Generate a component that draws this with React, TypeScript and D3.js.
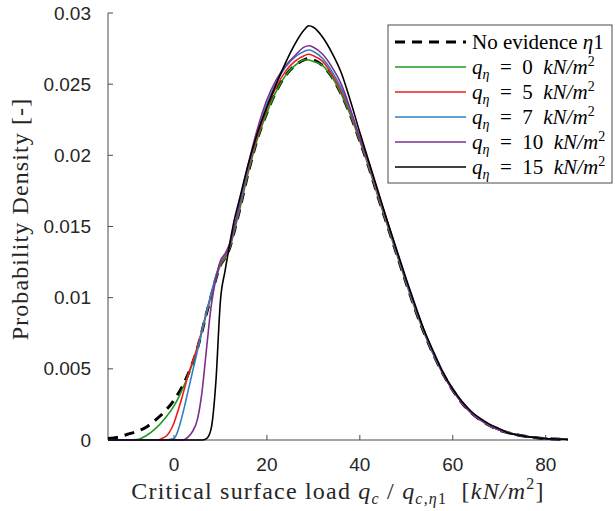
import React from "react";
import * as d3 from "d3";

const xValues = [-14.2,-12,-10,-8,-6,-4,-2,0,1,2,3,4,5,6,7,8,9,10,11,12,13,14,16,18,20,22,24,26,28,29,30,32,34,36,38,40,42,44,46,48,50,52,54,56,58,60,62,64,66,68,70,72,74,76,78,80,82,84.8];

const noEvidence = [0.0001,0.0002,0.0004,0.0006,0.0009,0.0014,0.0020,0.0028,0.0033,0.0039,0.0046,0.0054,0.0064,0.0076,0.0089,0.0101,0.0113,0.0123,0.0128,0.0135,0.0147,0.0160,0.0188,0.0212,0.0230,0.0245,0.0256,0.0263,0.0267,0.0268,0.0267,0.0263,0.0255,0.0243,0.0228,0.0210,0.0191,0.0170,0.0150,0.0130,0.0110,0.0091,0.0074,0.0059,0.0046,0.0035,0.0026,0.0019,0.0014,0.0010,0.0007,0.0005,0.00035,0.00024,0.00016,0.0001,0.00007,0.00004];

const q0 = [0,0,0,0.00003,0.0003,0.0008,0.0015,0.0024,0.0030,0.0037,0.0045,0.0054,0.0064,0.0076,0.0089,0.0101,0.0113,0.0123,0.0128,0.0135,0.0147,0.0160,0.0188,0.0212,0.0230,0.0245,0.0256,0.0263,0.0267,0.0267,0.0266,0.0263,0.0255,0.0243,0.0228,0.0210,0.0191,0.0170,0.0150,0.0130,0.0110,0.0091,0.0074,0.0059,0.0046,0.0035,0.0026,0.0019,0.0014,0.0010,0.0007,0.0005,0.00035,0.00024,0.00016,0.0001,0.00007,0.00004];

const q5 = [0,0,0,0,0,0,0.0002,0.0012,0.0022,0.0033,0.0045,0.0055,0.0065,0.0077,0.0090,0.0102,0.0114,0.0124,0.0129,0.0136,0.0148,0.0162,0.0190,0.0214,0.0233,0.0248,0.0259,0.0266,0.0270,0.0271,0.0270,0.0266,0.0257,0.0245,0.0230,0.0211,0.0192,0.0171,0.0151,0.0131,0.0111,0.0092,0.0075,0.0059,0.0046,0.0035,0.0026,0.0019,0.0014,0.0010,0.0007,0.0005,0.00035,0.00024,0.00016,0.0001,0.00007,0.00004];

const q7 = [0,0,0,0,0,0,0,0.0001,0.0008,0.0020,0.0034,0.0048,0.0062,0.0076,0.0090,0.0103,0.0115,0.0125,0.0130,0.0137,0.0149,0.0163,0.0192,0.0216,0.0236,0.0251,0.0262,0.0269,0.0273,0.0274,0.0273,0.0268,0.0259,0.0247,0.0231,0.0212,0.0193,0.0172,0.0152,0.0131,0.0111,0.0092,0.0075,0.0059,0.0046,0.0035,0.0026,0.0019,0.0014,0.0010,0.0007,0.0005,0.00035,0.00024,0.00016,0.0001,0.00007,0.00004];

const q10 = [0,0,0,0,0,0,0,0,0,0,0.0002,0.0006,0.0014,0.0033,0.0064,0.0094,0.0113,0.0126,0.0131,0.0138,0.0150,0.0165,0.0194,0.0219,0.0239,0.0253,0.0263,0.0270,0.0276,0.0277,0.0276,0.0271,0.0262,0.0250,0.0232,0.0212,0.0194,0.0173,0.0153,0.0132,0.0112,0.0093,0.0075,0.0060,0.0046,0.0035,0.0026,0.0019,0.0014,0.0010,0.0007,0.0005,0.00035,0.00024,0.00016,0.0001,0.00007,0.00004];

const q15 = [0,0,0,0,0,0,0,0,0,0,0,0,0,0,0.0001,0.0008,0.0040,0.0098,0.0119,0.0138,0.0155,0.0168,0.0194,0.0216,0.0234,0.0250,0.0265,0.0278,0.0288,0.0291,0.0290,0.0283,0.0272,0.0258,0.0238,0.0216,0.0195,0.0174,0.0153,0.0133,0.0113,0.0094,0.0076,0.0061,0.0047,0.0036,0.0027,0.0020,0.0015,0.0011,0.0008,0.0005,0.00035,0.00024,0.00016,0.0001,0.00007,0.00004];

const yTicks = [0, 0.005, 0.01, 0.015, 0.02, 0.025, 0.03];
const yTickLabels = ["0", "0.005", "0.01", "0.015", "0.02", "0.025", "0.03"];
const xTicks = [0, 20, 40, 60, 80];
const legendValues = ["0", "5", "7", "10", "15"];

const seriesColors = ["#1f9a1f", "#ee1c1c", "#2e7fc4", "#7e2f8e", "#000000"];

export default function App() {
  const left = 108, right = 568, top = 13, bottom = 440;
  const x = d3.scaleLinear().domain([-14.2, 84.8]).range([left, right]);
  const y = d3.scaleLinear().domain([0, 0.03]).range([bottom, top]);
  const line = d3
    .line<number>()
    .x((_, i) => x(xValues[i]))
    .y((d) => y(d))
    .curve(d3.curveMonotoneX);

  const series = [q0, q5, q7, q10, q15];
  const serif = "'Liberation Serif', 'Times New Roman', serif";
  const sans = "'Liberation Sans', Arial, sans-serif";

  const legX = 388, legY = 25, legW = 224, legH = 158;
  const rowY = (i: number) => legY + 17 + i * 25;

  return (
    <svg
      width={615}
      height={511}
      style={{ position: "absolute", left: 0, top: 0, background: "#fff" }}
    >
      <rect x={0} y={0} width={615} height={511} fill="#fff" />
      {/* axes */}
      <g stroke="#4a4a4a" strokeWidth={1} fill="none">
        <line x1={left} y1={top} x2={left} y2={bottom} />
        <line x1={left} y1={bottom} x2={right} y2={bottom} />
        {yTicks.map((t) => (
          <line key={"yt" + t} x1={left} x2={left + 5} y1={y(t)} y2={y(t)} />
        ))}
        {xTicks.map((t) => (
          <line key={"xt" + t} x1={x(t)} x2={x(t)} y1={bottom} y2={bottom - 5} />
        ))}
      </g>
      <g fontFamily={sans} fontSize={19} fill="#262626">
        {yTicks.map((t, i) => (
          <text key={"yl" + t} x={91} y={y(t)} dy="0.35em" textAnchor="end">
            {yTickLabels[i]}
          </text>
        ))}
        {xTicks.map((t) => (
          <text key={"xl" + t} x={x(t)} y={471} textAnchor="middle">
            {t}
          </text>
        ))}
      </g>
      {/* curves */}
      <path
        d={line(noEvidence) || ""}
        fill="none"
        stroke="#000"
        strokeWidth={3}
        strokeDasharray="10,7"
      />
      {series.map((s, i) => (
        <path
          key={"s" + i}
          d={line(s) || ""}
          fill="none"
          stroke={seriesColors[i]}
          strokeWidth={1.6}
        />
      ))}
      {/* axis labels */}
      <text
        transform="translate(28,219) rotate(-90)"
        textAnchor="middle"
        fontFamily={serif}
        fontSize={24}
        letterSpacing={1.1}
        fill="#262626"
      >
        Probability Density [-]
      </text>
      <text
        x={338}
        y={499}
        textAnchor="middle"
        fontFamily={serif}
        fontSize={24}
        letterSpacing={1.2}
        fill="#262626"
        style={{ whiteSpace: "pre" }}
      >
        Critical surface load <tspan fontStyle="italic">q</tspan>
        <tspan fontSize={16} dy={5} fontStyle="italic">c</tspan>
        <tspan dy={-5}>{" / "}</tspan>
        <tspan fontStyle="italic">q</tspan>
        <tspan fontSize={16} dy={5}>
          <tspan fontStyle="italic">c</tspan>,<tspan fontStyle="italic">η</tspan>1
        </tspan>
        <tspan dy={-5}>{"  ["}</tspan>
        <tspan fontStyle="italic">kN/m</tspan>
        <tspan fontSize={16} dy={-10}>2</tspan>
        <tspan dy={10}>]</tspan>
      </text>
      {/* legend */}
      <rect
        x={legX}
        y={legY}
        width={legW}
        height={legH}
        fill="#fff"
        stroke="#4a4a4a"
        strokeWidth={1}
      />
      <line
        x1={395}
        x2={466}
        y1={rowY(0)}
        y2={rowY(0)}
        stroke="#000"
        strokeWidth={3}
        strokeDasharray="10,7"
      />
      <text x={472} y={rowY(0)} dy="0.33em" fontFamily={serif} fontSize={21} fill="#000">
        No evidence <tspan fontStyle="italic">η</tspan>1
      </text>
      {legendValues.map((v, i) => (
        <g key={"lg" + v}>
          <line
            x1={395}
            x2={466}
            y1={rowY(i + 1)}
            y2={rowY(i + 1)}
            stroke={seriesColors[i]}
            strokeWidth={1.6}
          />
          <text
            x={472}
            y={rowY(i + 1)}
            dy="0.33em"
            fontFamily={serif}
            fontSize={21}
            fill="#000"
            style={{ whiteSpace: "pre" }}
          >
            <tspan fontStyle="italic">q</tspan>
            <tspan fontSize={14} dy={5} fontStyle="italic">η</tspan>
            <tspan dy={-5}>{"  =  " + v + "  "}</tspan>
            <tspan fontStyle="italic">kN/m</tspan>
            <tspan fontSize={14} dy={-8}>2</tspan>
          </text>
        </g>
      ))}
    </svg>
  );
}
